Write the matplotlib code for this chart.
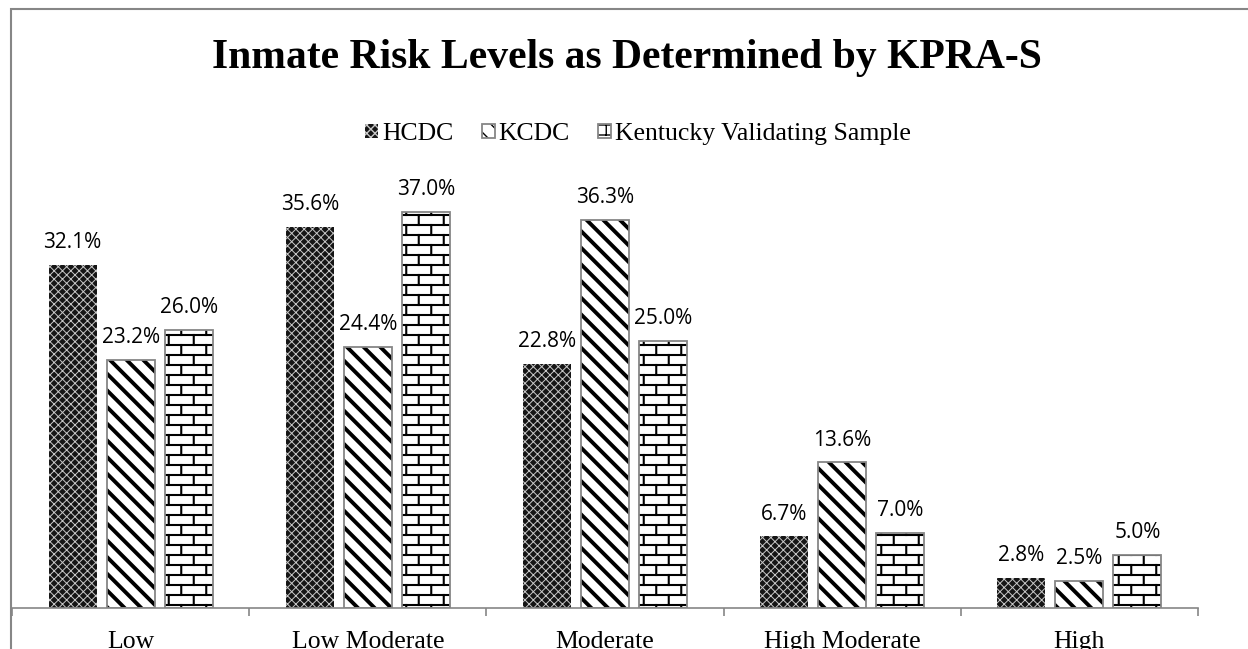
import warnings
import numpy as np
import matplotlib
matplotlib.use("Agg")
import matplotlib.pyplot as plt
from matplotlib import hatch as mhatch
from matplotlib.path import Path
from matplotlib.patches import Rectangle

warnings.filterwarnings("ignore")

categories = ["Low", "Low Moderate", "Moderate", "High Moderate", "High"]
series_names = ["HCDC", "KCDC", "Kentucky Validating Sample"]
hcdc = [32.1, 35.6, 22.8, 6.7, 2.8]
kcdc = [23.2, 24.4, 36.3, 13.6, 2.5]
kentucky = [26.0, 37.0, 25.0, 7.0, 5.0]


class BrickHatch(mhatch.HatchPatternBase):
    """Running-bond brick texture, selected with the 'b' hatch character."""
    rows = 10
    cols = 4

    def __init__(self, hatch, density):
        self.active = hatch.count("b") > 0
        if self.active:
            self.num_vertices = 2 * (self.rows + self.rows * self.cols + self.cols)
        else:
            self.num_vertices = 0

    def set_vertices_and_codes(self, vertices, codes):
        segs = []
        r, c = self.rows, self.cols
        for i in range(r):
            y0 = (i + 0.5) / r
            segs.append(((0.0, y0), (1.0, y0)))
        for i in range(r):
            y0 = (i + 0.5) / r
            y1 = (i + 1.5) / r
            for j in range(c):
                x = ((j + 0.25 + 0.5 * (i % 2)) / c) % 1.0
                if i == r - 1:
                    segs.append(((x, y0), (x, 1.02)))
                else:
                    segs.append(((x, y0), (x, y1)))
        # wrap-around part of the top row's joints
        i = r - 1
        for j in range(c):
            x = ((j + 0.25 + 0.5 * (i % 2)) / c) % 1.0
            segs.append(((x, -0.02), (x, 0.5 / r)))
        for k, (a, b) in enumerate(segs):
            vertices[2 * k] = a
            vertices[2 * k + 1] = b
            codes[2 * k] = Path.MOVETO
            codes[2 * k + 1] = Path.LINETO


mhatch._hatch_types.append(BrickHatch)

W, H = 1248, 649
fig = plt.figure(figsize=(W / 100, H / 100), dpi=100)
fig.patch.set_facecolor("white")

ax = fig.add_axes([12 / W, 1 - 608 / H, (1198 - 12) / W, 428 / H])
ax.set_xlim(-0.5, len(categories) - 0.5)
ax.set_ylim(0, 40)

x = np.arange(len(categories))
bw = 48 / 237
step = 58 / 237
gray = "#868686"

styles = [
    dict(values=hcdc, face="#151515", hatch="xxxx", hcol="#c8c8c8", hlw=0.7, outline=False),
    dict(values=kcdc, face="white", hatch="\\\\", hcol="black", hlw=2.8, outline=True),
    dict(values=kentucky, face="white", hatch="b", hcol="black", hlw=1.5, outline=True),
]

handles = []
for k, st in enumerate(styles):
    pos = x + (k - 1) * step
    with plt.rc_context({"hatch.linewidth": st["hlw"]}):
        bars = ax.bar(pos, st["values"], bw, facecolor=st["face"], hatch=st["hatch"],
                      edgecolor=st["hcol"], linewidth=0, zorder=2)
        for b in bars:
            if hasattr(b, "set_hatch_linewidth"):
                b.set_hatch_linewidth(st["hlw"])
    if st["outline"]:
        outl = ax.bar(pos, st["values"], bw, facecolor="none", edgecolor=gray,
                      linewidth=1.3, zorder=3)
        handles.append((bars[0], outl[0]))
    else:
        handles.append(bars[0])
    for xi, v in zip(pos, st["values"]):
        ax.annotate(f"{v:.1f}%", (xi, v), xytext=(0, 8.5), textcoords="offset points",
                    ha="center", va="bottom", fontsize=15, family="Open Sans",
                    color="black")

for side in ("left", "right", "top"):
    ax.spines[side].set_visible(False)
ax.spines["bottom"].set_color(gray)
ax.spines["bottom"].set_linewidth(1.2)
ax.set_yticks([])
ax.set_xticks(x)
ax.set_xticklabels(categories, family="Liberation Serif", fontsize=18.5)
ax.set_xticks(np.arange(-0.5, len(categories)), minor=True)
ax.tick_params(axis="x", which="major", length=0, pad=16.5)
ax.tick_params(axis="x", which="minor", length=6, width=1.2, color=gray)
ax.patch.set_alpha(0)

fig.text(627 / W, 1 - 68 / H, "Inmate Risk Levels as Determined by KPRA-S",
         ha="center", va="baseline", fontsize=30, fontweight="bold",
         family="Liberation Serif")

fig.legend(handles, series_names, loc="center", bbox_to_anchor=(638 / W, 1 - 134 / H),
           ncol=3, frameon=False, prop={"family": "Liberation Serif", "size": 18.5},
           handlelength=0.5, handleheight=0.5, handletextpad=0.15,
           columnspacing=1.1, borderaxespad=0)

frame = Rectangle((11 / W, -0.5), 2.0, (1 - 8.5 / H) + 0.5, transform=fig.transFigure,
                  fill=False, edgecolor=gray, linewidth=1.5, clip_on=False)
fig.add_artist(frame)

fig.savefig("out.png", dpi=100, facecolor="white")
